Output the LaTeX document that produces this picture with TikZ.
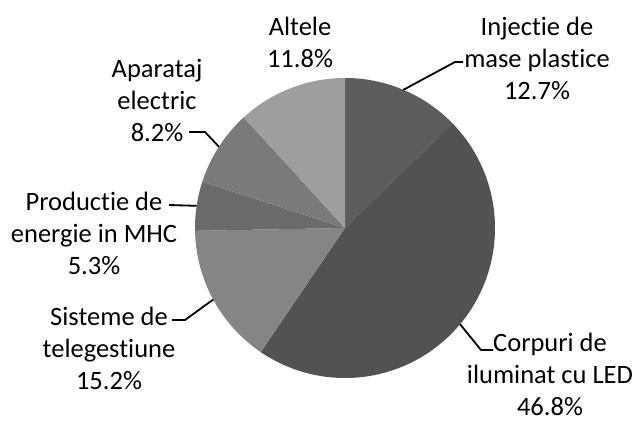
\documentclass[tikz,border=0pt]{standalone}
\usepackage{fontspec}
\setmainfont{Carlito}[Ligatures=NoCommon]
\usepackage{tikz}
\usetikzlibrary{positioning}

\begin{document}
\begin{tikzpicture}[
		x=1pt, y=1pt,
		lbl/.style = {align=center, font=\fontsize{26.5}{32}\selectfont, inner sep=0pt},
		leader/.style = {draw, line width=1.8pt}
	]
	\useasboundingbox (0,0) rectangle (636,423);
	\coordinate (c) at (345,195);
	% Slices, clockwise from the top.
	\fill[black!64] (c) -- ++(90:150) arc[start angle=90, end angle=44.28, radius=150] -- cycle;
	\fill[black!68] (c) -- ++(44.28:150) arc[start angle=44.28, end angle=-124.2, radius=150] -- cycle;
	\fill[black!48] (c) -- ++(-124.2:150) arc[start angle=-124.2, end angle=-178.92, radius=150] -- cycle;
	\fill[black!58] (c) -- ++(-178.92:150) arc[start angle=-178.92, end angle=-198, radius=150] -- cycle;
	\fill[black!52] (c) -- ++(-198:150) arc[start angle=-198, end angle=-227.52, radius=150] -- cycle;
	\fill[black!38] (c) -- ++(-227.52:150) arc[start angle=-227.52, end angle=-270, radius=150] -- cycle;
	% Labels.
	\node[lbl] (alt) at (300,381) {Altele\\11.8\%};
	\node[lbl] (inj) at (537,365) {Injectie de\\mase plastice\\12.7\%};
	\node[lbl] (apa) at (157,323) {Aparataj\\electric\\8.2\%};
	\node[lbl] (pro) at (94,190) {Productie de\\energie in MHC\\5.3\%};
	\node[lbl] (sis) at (109,75) {Sisteme de\\telegestiune\\15.2\%};
	\node[lbl] (cor) at (550,49) {Corpuri de\\iluminat cu LED\\46.8\%};
	% Leader lines.
	\path (c) ++(67.1:150) coordinate (injP);
	\path (c) ++(-39.9:150) coordinate (corP);
	\path (c) ++(-151.5:150) coordinate (sisP);
	\path (c) ++(-188.5:150) coordinate (proP);
	\path (c) ++(-212.8:150) coordinate (apaP);
	\coordinate (injE) at (463,361);
	\coordinate (corE) at (493,73);
	\coordinate (sisE) at (172,103);
	\coordinate (proE) at (169,218);
	\coordinate (apaE) at (189,291);
	\draw[leader] (injP) -- (455,361) -- (injE);
	\draw[leader] (corP) -- (481,73) -- (corE);
	\draw[leader] (sisP) -- (185,103) -- (sisE);
	\draw[leader] (proP) -- (proE);
	\draw[leader] (apaP) -- (205,291) -- (apaE);
\end{tikzpicture}
\end{document}
